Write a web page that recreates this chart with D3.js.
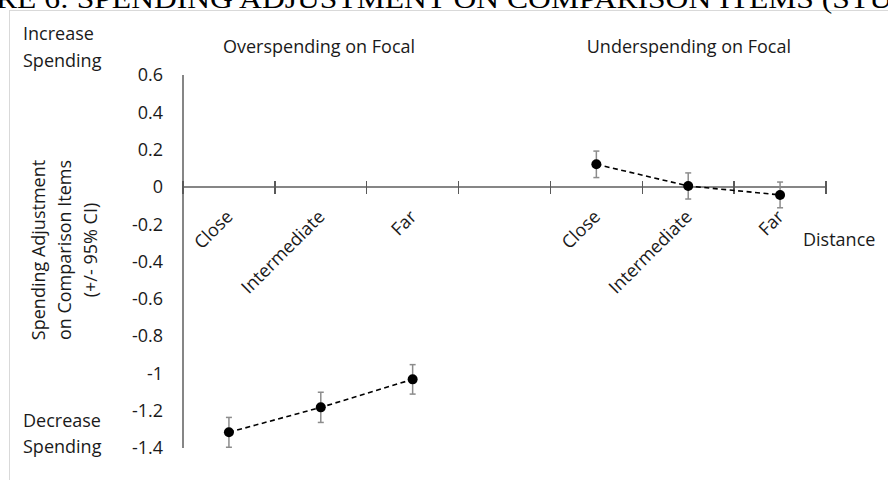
<!DOCTYPE html>
<html lang="en">
<head>
    <meta charset="utf-8">
    <title>Spending Adjustment on Comparison Items</title>
    <style>
        body {
            margin: 0;
            background-color: white;
            font: 18px "Open Sans", sans-serif;
        }

        svg text {
            fill: #1a1a1a;
        }

        .title {
            font-family: "Liberation Serif", serif;
            font-size: 27px;
            fill: black;
        }

        .axis-line {
            stroke: #868686;
            stroke-width: 1.3;
            shape-rendering: crispEdges;
        }

        .tick-mark {
            stroke: #595959;
            stroke-width: 1.3;
            shape-rendering: crispEdges;
        }

        .errbar {
            stroke: #8c8c8c;
            stroke-width: 1.5;
            fill: none;
        }

        .trend {
            stroke: black;
            stroke-width: 1.6;
            stroke-dasharray: 5,3.5;
            fill: none;
        }
    </style>
</head>
<body>
<div id="chart"></div>
<script src="https://cdn.jsdelivr.net/npm/d3@7"></script>
<script>
    // data
    var categories = ["Close", "Intermediate", "Far", "", "Close", "Intermediate", "Far"];
    var yTicks = [0.6, 0.4, 0.2, 0, -0.2, -0.4, -0.6, -0.8, -1, -1.2, -1.4];

    var overSlots = [0, 1, 2];
    var overMeans = [-1.316, -1.182, -1.032];
    var overCI = [0.08, 0.081, 0.079];

    var underSlots = [4, 5, 6];
    var underMeans = [0.121, 0.005, -0.043];
    var underCI = [0.071, 0.07, 0.069];

    var margin = { top: 75, right: 62, bottom: 32, left: 183 },
        width = 888 - margin.left - margin.right,
        height = 480 - margin.top - margin.bottom;

    var svg0 = d3.select("#chart")
        .append("svg")
        .attr("width", 888)
        .attr("height", 480);

    // chart frame (runs off the page on right and bottom)
    svg0.append("rect")
        .attr("x", 9.5)
        .attr("y", 10.5)
        .attr("width", 900)
        .attr("height", 500)
        .style("fill", "none")
        .style("stroke", "#d9d9d9");

    // page title, mostly cut off at the top
    svg0.append("text")
        .attr("class", "title")
        .attr("x", -4)
        .attr("y", 7.5)
        .attr("textLength", 896)
        .attr("lengthAdjust", "spacingAndGlyphs")
        .text("RE 6: SPENDING ADJUSTMENT ON COMPARISON ITEMS (STU");

    var svg = svg0.append("g")
        .attr("transform", "translate(" + margin.left + "," + margin.top + ")");

    var x = d3.scaleBand().domain(d3.range(categories.length)).range([0, width]).padding(0);
    var y = d3.scaleLinear().domain([-1.4, 0.6]).range([height, 0]);

    // y axis: line + labels, no tick marks
    svg.append("line")
        .attr("class", "axis-line")
        .attr("x1", 0).attr("x2", 0)
        .attr("y1", y(0.6)).attr("y2", y(-1.4));

    svg.selectAll(".ylab")
        .data(yTicks)
        .enter().append("text")
        .attr("class", "ylab")
        .attr("x", -20)
        .attr("y", function(d) { return y(d); })
        .attr("dy", "0.35em")
        .style("text-anchor", "end")
        .text(function(d) { return d; });

    // x axis at zero
    svg.append("line")
        .attr("class", "axis-line")
        .attr("x1", 0).attr("x2", width)
        .attr("y1", y(0)).attr("y2", y(0));

    var edges = d3.range(categories.length + 1).map(function(i) { return i * x.bandwidth(); });
    svg.selectAll(".tick-mark")
        .data(edges)
        .enter().append("line")
        .attr("class", "tick-mark")
        .attr("x1", function(d) { return d; })
        .attr("x2", function(d) { return d; })
        .attr("y1", y(0) - 6)
        .attr("y2", y(0) + 7);

    svg.selectAll(".xlab")
        .data(categories)
        .enter().append("text")
        .attr("class", "xlab")
        .attr("transform", function(d, i) {
            return "translate(" + (x(i) + x.bandwidth() / 2 + 5) + "," + (y(0) + 31) + ") rotate(-45)";
        })
        .style("text-anchor", "end")
        .text(function(d) { return d; });

    function drawSeries(slots, means, ci) {
        var pts = slots.map(function(s, i) { return { s: s, m: means[i], c: ci[i] }; });
        var cx = function(d) { return x(d.s) + x.bandwidth() / 2; };

        var line = d3.line()
            .x(cx)
            .y(function(d) { return y(d.m); });

        svg.append("path")
            .datum(pts)
            .attr("class", "trend")
            .attr("d", line);

        var eb = svg.selectAll(null).data(pts).enter().append("g");
        eb.append("line").attr("class", "errbar")
            .attr("x1", cx).attr("x2", cx)
            .attr("y1", function(d) { return y(d.m + d.c); })
            .attr("y2", function(d) { return y(d.m - d.c); });
        eb.append("line").attr("class", "errbar")
            .attr("x1", function(d) { return cx(d) - 3; })
            .attr("x2", function(d) { return cx(d) + 3; })
            .attr("y1", function(d) { return y(d.m + d.c); })
            .attr("y2", function(d) { return y(d.m + d.c); });
        eb.append("line").attr("class", "errbar")
            .attr("x1", function(d) { return cx(d) - 3; })
            .attr("x2", function(d) { return cx(d) + 3; })
            .attr("y1", function(d) { return y(d.m - d.c); })
            .attr("y2", function(d) { return y(d.m - d.c); });

        svg.selectAll(null).data(pts).enter().append("circle")
            .attr("cx", cx)
            .attr("cy", function(d) { return y(d.m); })
            .attr("r", 5)
            .style("fill", "black");
    }

    drawSeries(overSlots, overMeans, overCI);
    drawSeries(underSlots, underMeans, underCI);

    // annotations
    svg0.append("text").attr("x", 223).attr("y", 53).text("Overspending on Focal");
    svg0.append("text").attr("x", 791).attr("y", 53).style("text-anchor", "end").text("Underspending on Focal");
    svg0.append("text").attr("x", 803).attr("y", 246).text("Distance");

    svg0.append("text").attr("x", 23).attr("y", 40).text("Increase");
    svg0.append("text").attr("x", 23).attr("y", 66.5).text("Spending");
    svg0.append("text").attr("x", 23).attr("y", 427).text("Decrease");
    svg0.append("text").attr("x", 23).attr("y", 453).text("Spending");

    var ytitle = svg0.append("text")
        .attr("transform", "translate(45,250) rotate(-90)")
        .style("text-anchor", "middle");
    ytitle.append("tspan").attr("x", 0).attr("y", 0).text("Spending Adjustment");
    ytitle.append("tspan").attr("x", 0).attr("y", 26).text("on Comparison Items");
    ytitle.append("tspan").attr("x", 0).attr("y", 52).text("(+/- 95% CI)");
</script>
</body>
</html>
